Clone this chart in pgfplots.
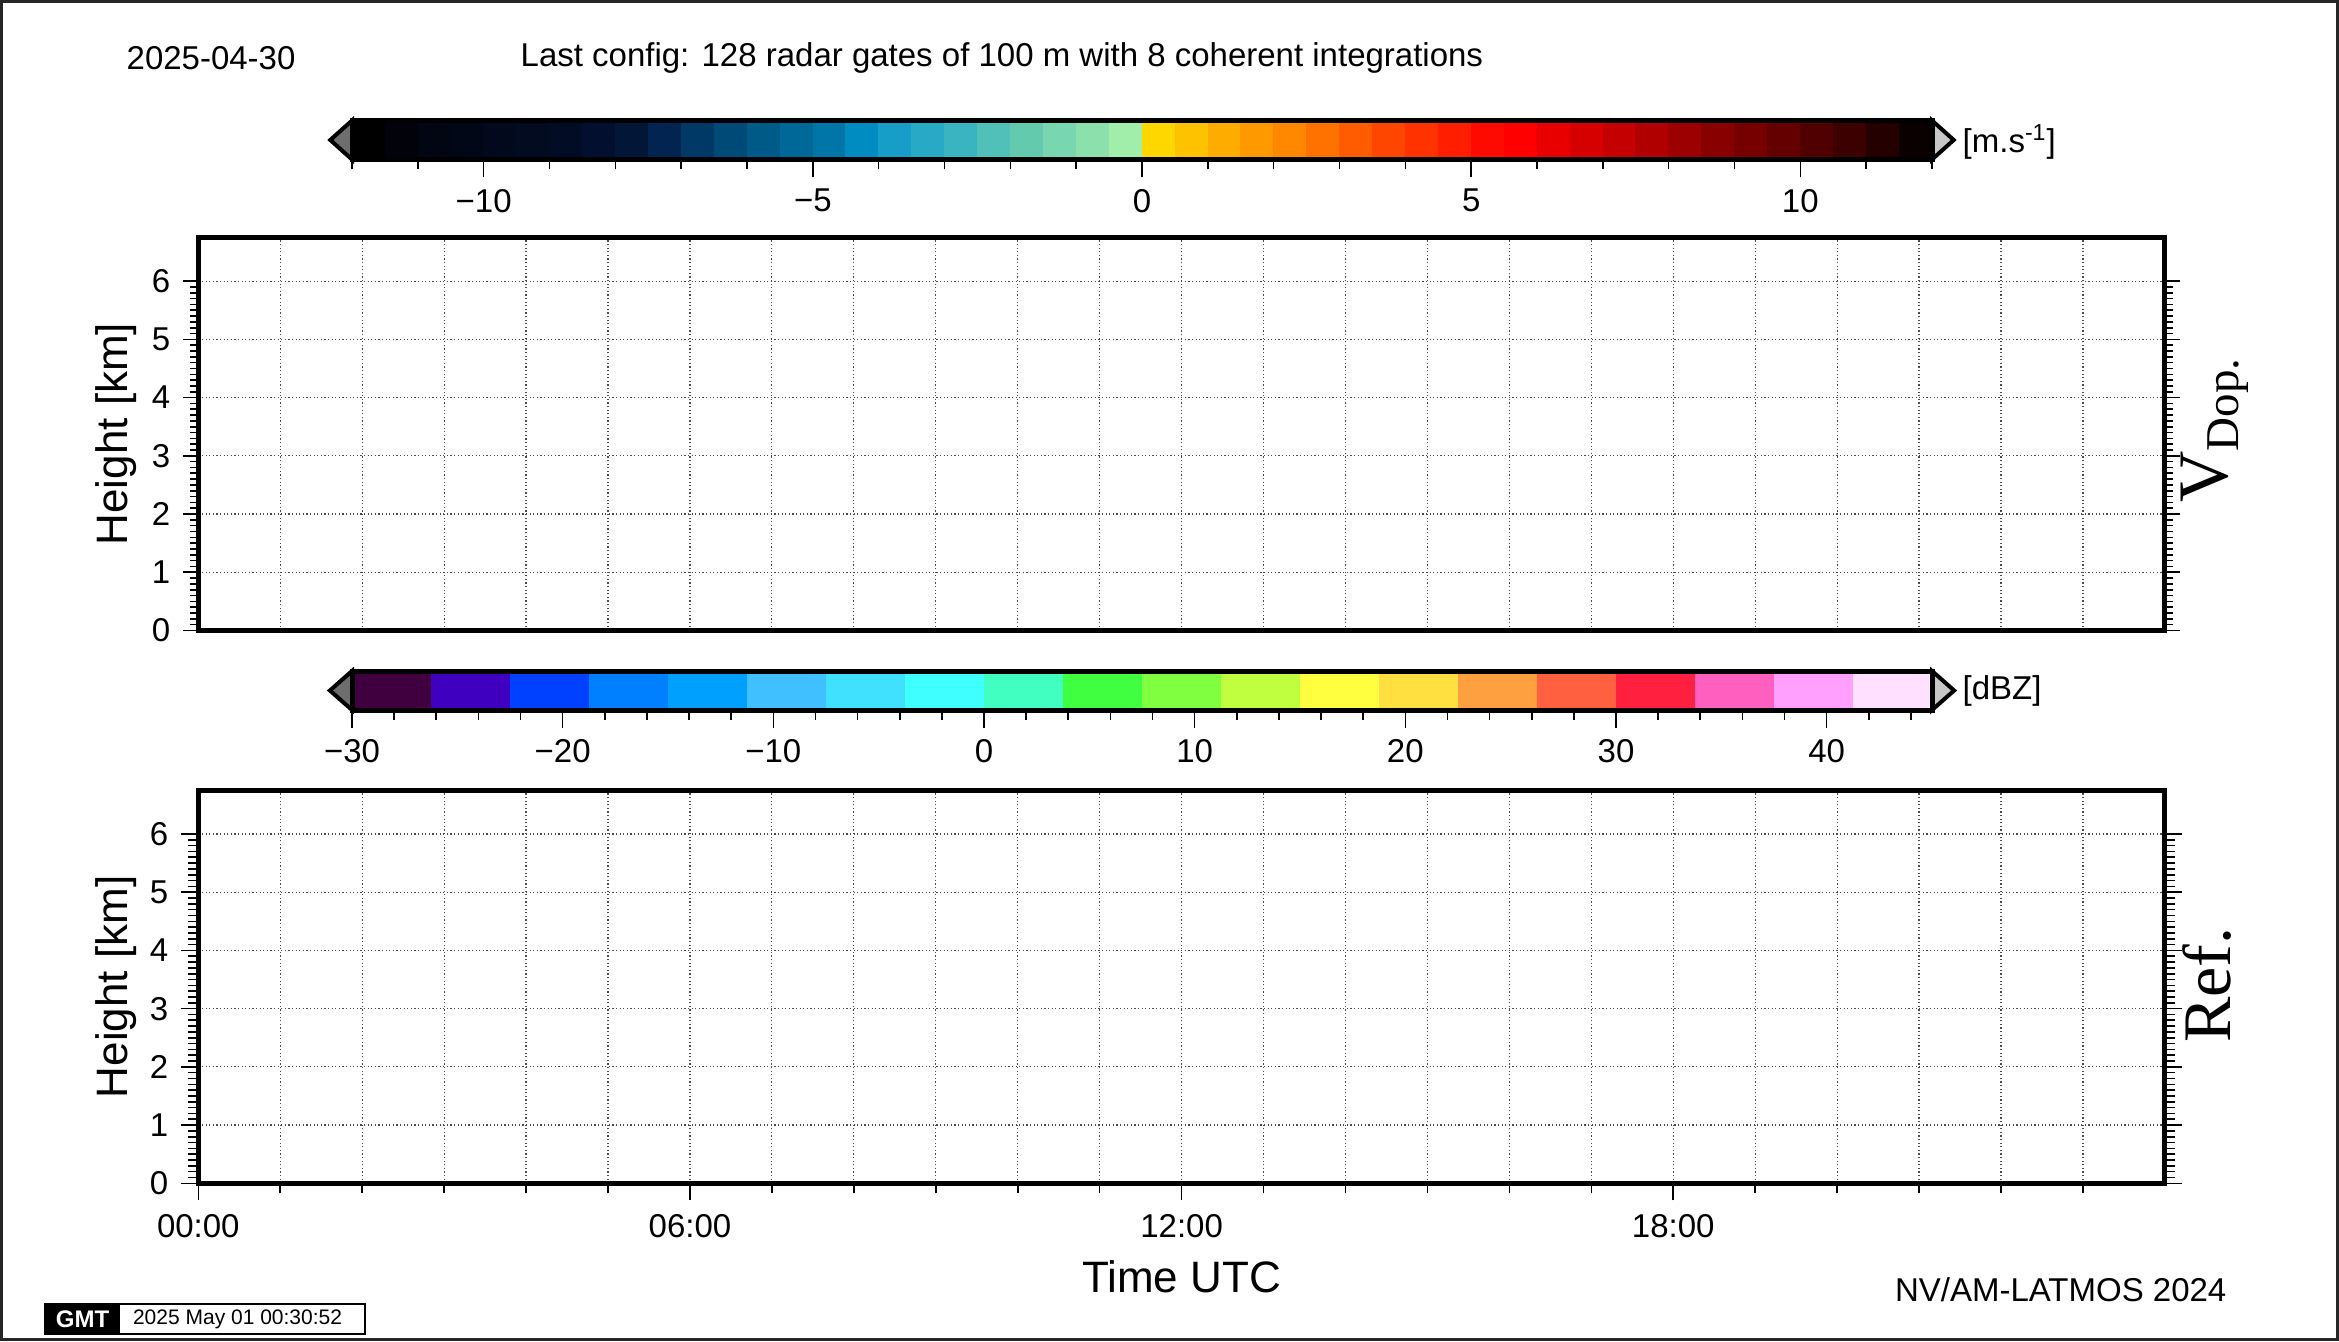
\documentclass[border=0pt]{standalone}
\usepackage{pgfplots}
\pgfplotsset{compat=1.18}
\usepackage{fontspec}
\setmainfont{Liberation Sans}
\newfontfamily\timesfont{Liberation Serif}
% Doppler velocity palette (-12 .. 12, 0.5 steps)
\definecolor{n1}{HTML}{000000}\definecolor{n2}{HTML}{01020A}\definecolor{n3}{HTML}{020512}
\definecolor{n4}{HTML}{020718}\definecolor{n5}{HTML}{02091C}\definecolor{n6}{HTML}{020B20}
\definecolor{n7}{HTML}{020C24}\definecolor{n8}{HTML}{020F2E}\definecolor{n9}{HTML}{021638}
\definecolor{n10}{HTML}{022450}\definecolor{n11}{HTML}{003866}\definecolor{n12}{HTML}{004A78}
\definecolor{n13}{HTML}{005A88}\definecolor{n14}{HTML}{006898}\definecolor{n15}{HTML}{0076A8}
\definecolor{n16}{HTML}{008CC0}\definecolor{n17}{HTML}{169EC8}\definecolor{n18}{HTML}{28AAC6}
\definecolor{n19}{HTML}{3AB4C0}\definecolor{n20}{HTML}{50C0B8}\definecolor{n21}{HTML}{64CAAE}
\definecolor{n22}{HTML}{78D6B0}\definecolor{n23}{HTML}{8CE0AC}\definecolor{n24}{HTML}{A0EEAA}
\definecolor{p1}{HTML}{FFD700}\definecolor{p2}{HTML}{FFC200}\definecolor{p3}{HTML}{FFAC00}
\definecolor{p4}{HTML}{FF9900}\definecolor{p5}{HTML}{FF8800}\definecolor{p6}{HTML}{FF7200}
\definecolor{p7}{HTML}{FF5C00}\definecolor{p8}{HTML}{FF4600}\definecolor{p9}{HTML}{FF3200}
\definecolor{p10}{HTML}{FF1E00}\definecolor{p11}{HTML}{FF0A00}\definecolor{p12}{HTML}{FF0000}
\definecolor{p13}{HTML}{E80000}\definecolor{p14}{HTML}{D60000}\definecolor{p15}{HTML}{C40000}
\definecolor{p16}{HTML}{B00000}\definecolor{p17}{HTML}{9C0000}\definecolor{p18}{HTML}{880000}
\definecolor{p19}{HTML}{760000}\definecolor{p20}{HTML}{640000}\definecolor{p21}{HTML}{500000}
\definecolor{p22}{HTML}{3C0000}\definecolor{p23}{HTML}{240000}\definecolor{p24}{HTML}{0A0000}
% reflectivity palette (-30 .. 45, 3.75 steps)
\definecolor{d1}{HTML}{400040}\definecolor{d2}{HTML}{4000C0}\definecolor{d3}{HTML}{0040FF}
\definecolor{d4}{HTML}{0080FF}\definecolor{d5}{HTML}{00A0FF}\definecolor{d6}{HTML}{40C0FF}
\definecolor{d7}{HTML}{40E0FF}\definecolor{d8}{HTML}{40FFFF}\definecolor{d9}{HTML}{40FFC0}
\definecolor{d10}{HTML}{40FF40}\definecolor{d11}{HTML}{80FF40}\definecolor{d12}{HTML}{C0FF40}
\definecolor{d13}{HTML}{FFFF40}\definecolor{d14}{HTML}{FFE040}\definecolor{d15}{HTML}{FFA040}
\definecolor{d16}{HTML}{FF6040}\definecolor{d17}{HTML}{FF2040}\definecolor{d18}{HTML}{FF60C0}
\definecolor{d19}{HTML}{FFA0FF}\definecolor{d20}{HTML}{FFE0FF}
\newcommand{\tickfont}{\fontsize{16.5}{19}\selectfont}
\newcommand{\labfont}{\fontsize{22}{26}\selectfont}
\pgfplotsset{
  panel/.style={
    scale only axis, width=983.3pt, height=196.5pt,
    xmin=0, xmax=24, ymin=0, ymax=6.75,
    axis line style={line width=2.5pt},
    ytick={0,...,6}, minor y tick num=9,
    tick align=outside,
    major tick length=7.5pt, minor tick length=4pt,
    tick style={black, line width=0.8pt},
    ytick pos=both, yticklabel pos=left,
    xtick={0,6,12,18}, minor xtick={1,...,23},
    xmajorgrids, xminorgrids, ymajorgrids,
    major grid style={black!70, line width=0.6pt, dash pattern=on 0.6pt off 1.2pt},
    minor grid style={black!70, line width=0.6pt, dash pattern=on 0.6pt off 1.2pt},
    tick label style={font=\tickfont},
    yticklabel style={xshift=-3pt},
    /pgf/number format/assume math mode=true,
    ylabel={Height [km]},
    ylabel style={font=\labfont, at={(axis description cs:-0.0418,0.5)}, anchor=center},
    anchor=south west,
  },
  cbar/.style={
    scale only axis, width=790pt, height=19.5pt,
    ymin=0, ymax=1, ytick=\empty,
    axis line style={line width=2.5pt},
    axis on top, clip=false,
    tick align=outside, xtick pos=left,
    major tick length=9pt, minor tick length=5pt,
    tick style={black, line width=0.8pt},
    tick label style={font=\tickfont},
    xticklabel style={yshift=-2.2pt},
    anchor=south west,
  },
  bin/.style={draw=#1, line width=0.3pt, fill=#1},
}
\begin{document}
\begin{tikzpicture}
% ---------------- Doppler velocity colour bar ----------------
\begin{axis}[cbar, at={(176pt,590.75pt)}, xmin=-12, xmax=12,
  xtick={-10,-5,0,5,10}, xticklabels={−10,−5,0,5,10}, minor xtick={-12,...,12}]
\addplot[bin=n1] coordinates {(-12,1) (-11.5,1)} \closedcycle;
\addplot[bin=n2] coordinates {(-11.5,1) (-11,1)} \closedcycle;
\addplot[bin=n3] coordinates {(-11,1) (-10.5,1)} \closedcycle;
\addplot[bin=n4] coordinates {(-10.5,1) (-10,1)} \closedcycle;
\addplot[bin=n5] coordinates {(-10,1) (-9.5,1)} \closedcycle;
\addplot[bin=n6] coordinates {(-9.5,1) (-9,1)} \closedcycle;
\addplot[bin=n7] coordinates {(-9,1) (-8.5,1)} \closedcycle;
\addplot[bin=n8] coordinates {(-8.5,1) (-8,1)} \closedcycle;
\addplot[bin=n9] coordinates {(-8,1) (-7.5,1)} \closedcycle;
\addplot[bin=n10] coordinates {(-7.5,1) (-7,1)} \closedcycle;
\addplot[bin=n11] coordinates {(-7,1) (-6.5,1)} \closedcycle;
\addplot[bin=n12] coordinates {(-6.5,1) (-6,1)} \closedcycle;
\addplot[bin=n13] coordinates {(-6,1) (-5.5,1)} \closedcycle;
\addplot[bin=n14] coordinates {(-5.5,1) (-5,1)} \closedcycle;
\addplot[bin=n15] coordinates {(-5,1) (-4.5,1)} \closedcycle;
\addplot[bin=n16] coordinates {(-4.5,1) (-4,1)} \closedcycle;
\addplot[bin=n17] coordinates {(-4,1) (-3.5,1)} \closedcycle;
\addplot[bin=n18] coordinates {(-3.5,1) (-3,1)} \closedcycle;
\addplot[bin=n19] coordinates {(-3,1) (-2.5,1)} \closedcycle;
\addplot[bin=n20] coordinates {(-2.5,1) (-2,1)} \closedcycle;
\addplot[bin=n21] coordinates {(-2,1) (-1.5,1)} \closedcycle;
\addplot[bin=n22] coordinates {(-1.5,1) (-1,1)} \closedcycle;
\addplot[bin=n23] coordinates {(-1,1) (-0.5,1)} \closedcycle;
\addplot[bin=n24] coordinates {(-0.5,1) (0,1)} \closedcycle;
\addplot[bin=p1] coordinates {(0,1) (0.5,1)} \closedcycle;
\addplot[bin=p2] coordinates {(0.5,1) (1,1)} \closedcycle;
\addplot[bin=p3] coordinates {(1,1) (1.5,1)} \closedcycle;
\addplot[bin=p4] coordinates {(1.5,1) (2,1)} \closedcycle;
\addplot[bin=p5] coordinates {(2,1) (2.5,1)} \closedcycle;
\addplot[bin=p6] coordinates {(2.5,1) (3,1)} \closedcycle;
\addplot[bin=p7] coordinates {(3,1) (3.5,1)} \closedcycle;
\addplot[bin=p8] coordinates {(3.5,1) (4,1)} \closedcycle;
\addplot[bin=p9] coordinates {(4,1) (4.5,1)} \closedcycle;
\addplot[bin=p10] coordinates {(4.5,1) (5,1)} \closedcycle;
\addplot[bin=p11] coordinates {(5,1) (5.5,1)} \closedcycle;
\addplot[bin=p12] coordinates {(5.5,1) (6,1)} \closedcycle;
\addplot[bin=p13] coordinates {(6,1) (6.5,1)} \closedcycle;
\addplot[bin=p14] coordinates {(6.5,1) (7,1)} \closedcycle;
\addplot[bin=p15] coordinates {(7,1) (7.5,1)} \closedcycle;
\addplot[bin=p16] coordinates {(7.5,1) (8,1)} \closedcycle;
\addplot[bin=p17] coordinates {(8,1) (8.5,1)} \closedcycle;
\addplot[bin=p18] coordinates {(8.5,1) (9,1)} \closedcycle;
\addplot[bin=p19] coordinates {(9,1) (9.5,1)} \closedcycle;
\addplot[bin=p20] coordinates {(9.5,1) (10,1)} \closedcycle;
\addplot[bin=p21] coordinates {(10,1) (10.5,1)} \closedcycle;
\addplot[bin=p22] coordinates {(10.5,1) (11,1)} \closedcycle;
\addplot[bin=p23] coordinates {(11,1) (11.5,1)} \closedcycle;
\addplot[bin=p24] coordinates {(11.5,1) (12,1)} \closedcycle;
\addplot[fill=black!57, draw=black, line width=2pt, line join=miter] coordinates {(-12,0) (-12.33,0.5) (-12,1)} -- cycle;
\addplot[fill=black!22, draw=black, line width=2pt, line join=miter] coordinates {(12,0) (12.33,0.5) (12,1)} -- cycle;
\end{axis}
% ---------------- Doppler velocity panel ----------------
\begin{axis}[panel, at={(99.15pt,355.25pt)}, xticklabels={}, xtick style={draw=none}]
\end{axis}
% ---------------- Reflectivity colour bar ----------------
\begin{axis}[cbar, at={(176pt,315.5pt)}, xmin=-30, xmax=45,
  xtick={-30,-20,...,40}, xticklabels={−30,−20,−10,0,10,20,30,40}, minor xtick={-28,-26,...,44}]
\addplot[bin=d1] coordinates {(-30,1) (-26.25,1)} \closedcycle;
\addplot[bin=d2] coordinates {(-26.25,1) (-22.5,1)} \closedcycle;
\addplot[bin=d3] coordinates {(-22.5,1) (-18.75,1)} \closedcycle;
\addplot[bin=d4] coordinates {(-18.75,1) (-15,1)} \closedcycle;
\addplot[bin=d5] coordinates {(-15,1) (-11.25,1)} \closedcycle;
\addplot[bin=d6] coordinates {(-11.25,1) (-7.5,1)} \closedcycle;
\addplot[bin=d7] coordinates {(-7.5,1) (-3.75,1)} \closedcycle;
\addplot[bin=d8] coordinates {(-3.75,1) (0,1)} \closedcycle;
\addplot[bin=d9] coordinates {(0,1) (3.75,1)} \closedcycle;
\addplot[bin=d10] coordinates {(3.75,1) (7.5,1)} \closedcycle;
\addplot[bin=d11] coordinates {(7.5,1) (11.25,1)} \closedcycle;
\addplot[bin=d12] coordinates {(11.25,1) (15,1)} \closedcycle;
\addplot[bin=d13] coordinates {(15,1) (18.75,1)} \closedcycle;
\addplot[bin=d14] coordinates {(18.75,1) (22.5,1)} \closedcycle;
\addplot[bin=d15] coordinates {(22.5,1) (26.25,1)} \closedcycle;
\addplot[bin=d16] coordinates {(26.25,1) (30,1)} \closedcycle;
\addplot[bin=d17] coordinates {(30,1) (33.75,1)} \closedcycle;
\addplot[bin=d18] coordinates {(33.75,1) (37.5,1)} \closedcycle;
\addplot[bin=d19] coordinates {(37.5,1) (41.25,1)} \closedcycle;
\addplot[bin=d20] coordinates {(41.25,1) (45,1)} \closedcycle;
\addplot[fill=black!57, draw=black, line width=2pt, line join=miter] coordinates {(-30,0) (-31.05,0.5) (-30,1)} -- cycle;
\addplot[fill=black!22, draw=black, line width=2pt, line join=miter] coordinates {(45,0) (46.05,0.5) (45,1)} -- cycle;
\end{axis}
% ---------------- Reflectivity panel ----------------
\begin{axis}[panel, at={(99.15pt,78.85pt)}, xtick pos=left,
  xticklabels={00:00,06:00,12:00,18:00},
  xticklabel style={yshift=-3.7pt},
  major tick length=8.5pt, minor tick length=5pt,
  xlabel={Time UTC},
  xlabel style={font=\labfont, at={(axis description cs:0.5,-0.2366)}, anchor=center}]
\end{axis}
% ---------------- texts ----------------
\node[anchor=west, font=\tickfont] at (59.8pt,641.5pt) {2025-04-30};
\node[anchor=west, font=\tickfont] at (256.8pt,641.5pt) {Last config: 128 radar gates of 100 m with 8 coherent integrations};
\node[anchor=west, font=\tickfont] at (977.8pt,599.5pt) {[m.s\textsuperscript{-1}]};
\node[anchor=west, font=\tickfont] at (977.8pt,325pt) {[dBZ]};
\node[anchor=east, font=\tickfont] at (1116.7pt,25.5pt) {NV/AM-LATMOS 2024};
\node[rotate=90, anchor=base west, inner sep=0pt, font=\timesfont\fontsize{35.5}{40}\selectfont] at (1113.5pt,419pt) {V\raisebox{-5.5pt}{\fontsize{23.5}{26}\selectfont Dop.}};
\node[rotate=90, anchor=base west, inner sep=0pt, font=\timesfont\fontsize{34}{40}\selectfont] at (1115pt,149pt) {Ref.};
% GMT time stamp
\fill[black] (22.5pt,3.5pt) rectangle (60pt,18.5pt);
\draw[line width=0.6pt] (22.5pt,3.5pt) rectangle (182.5pt,18.5pt);
\node[white, font=\bfseries\fontsize{12}{13}\selectfont] at (41.25pt,11pt) {GMT};
\node[anchor=west, font=\fontsize{10.5}{12}\selectfont] at (63pt,11pt) {2025 May 01 00:30:52};
% outer frame
\draw[line width=1.5pt, black!85] (0.75pt,0.75pt) rectangle (1168.75pt,669.75pt);
\pgfresetboundingbox
\path[use as bounding box] (0pt,0pt) rectangle (1169.5pt,670.5pt);
\end{tikzpicture}
\end{document}
